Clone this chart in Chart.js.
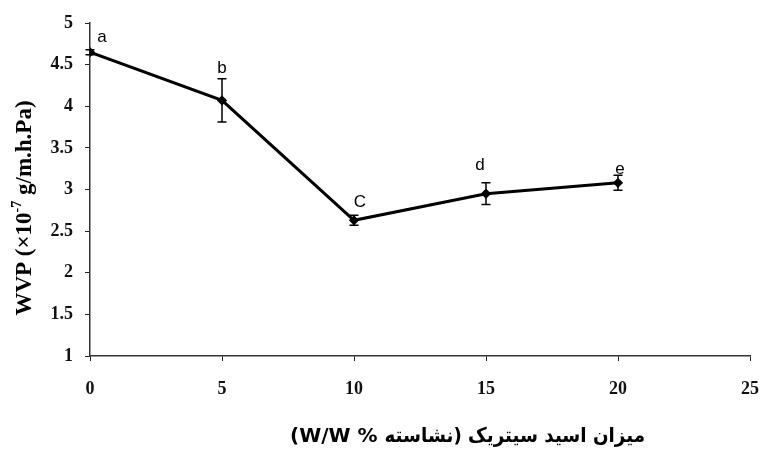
<!DOCTYPE html>
<html>
<head>
<meta charset="utf-8">
<script src="https://cdn.jsdelivr.net/npm/chart.js@4.4.1/dist/chart.umd.min.js"></script>
<style>
  html, body { margin: 0; padding: 0; background: #fff; }
  #wrap { width: 763px; height: 453px; }
</style>
</head>
<body>
<div id="wrap"><canvas id="c" width="763" height="453"></canvas></div>
<script>
// Citric acid content (% w/w of starch) and water vapour permeability
const citricAcid = [0, 5, 10, 15, 20];
const wvp = [4.65, 4.07, 2.63, 2.95, 3.08];
const wvpError = [0.03, 0.26, 0.06, 0.13, 0.09];
const groupLetters = ['a', 'b', 'C', 'd', 'e'];
const xTicks = [0, 5, 10, 15, 20, 25];
const yTicks = [1, 1.5, 2, 2.5, 3, 3.5, 4, 4.5, 5];

const yTitleMain = 'WVP (\u00d710';
const yTitleSup = '-7';
const yTitleRest = ' g/m.h.Pa)';
// horizontal title: Persian part (right-to-left) and unit part
const xTitlePersian = 'میزان اسید سیتریک (نشاسته';
const xTitleUnit = '(W/W %';

// Letter placement relative to each point (pixels)
const letterOffsets = [[12, -15], [0, -32], [6, -18], [-6, -28], [2, -14]];

const tickFont = { family: '"Liberation Serif", serif', size: 18, weight: 'bold' };

const errorBars = {
  id: 'errorBars',
  beforeDatasetsDraw(chart) {
    const { ctx, scales: { x, y } } = chart;
    ctx.save();
    ctx.strokeStyle = '#000';
    ctx.lineWidth = 1.5;
    citricAcid.forEach((c, i) => {
      const px = x.getPixelForValue(c);
      const top = y.getPixelForValue(wvp[i] + wvpError[i]);
      const bot = y.getPixelForValue(wvp[i] - wvpError[i]);
      ctx.beginPath();
      ctx.moveTo(px, top); ctx.lineTo(px, bot);
      ctx.moveTo(px - 4.5, top); ctx.lineTo(px + 4.5, top);
      ctx.moveTo(px - 4.5, bot); ctx.lineTo(px + 4.5, bot);
      ctx.stroke();
    });
    ctx.restore();
  }
};

const annotations = {
  id: 'annotations',
  afterDatasetsDraw(chart) {
    const { ctx, scales: { x, y } } = chart;
    ctx.save();
    ctx.fillStyle = '#000';
    ctx.font = '17px "Liberation Sans", sans-serif';
    ctx.textAlign = 'center';
    ctx.textBaseline = 'middle';
    citricAcid.forEach((c, i) => {
      const [dx, dy] = letterOffsets[i];
      ctx.fillText(groupLetters[i], x.getPixelForValue(c) + dx, y.getPixelForValue(wvp[i]) + dy);
    });
    ctx.restore();
  },
  afterDraw(chart) {
    const { ctx } = chart;
    // vertical axis title with superscript exponent
    ctx.save();
    ctx.fillStyle = '#000';
    ctx.translate(25, 208);
    ctx.rotate(-Math.PI / 2);
    ctx.textBaseline = 'middle';
    const mainFont = 'bold 23px "Liberation Serif", serif';
    const supFont = 'bold 14px "Liberation Serif", serif';
    ctx.font = mainFont;
    const w1 = ctx.measureText(yTitleMain).width;
    const w3 = ctx.measureText(yTitleRest).width;
    ctx.font = supFont;
    const w2 = ctx.measureText(yTitleSup).width;
    let sx = -(w1 + w2 + w3) / 2;
    ctx.textAlign = 'left';
    ctx.font = mainFont;
    ctx.fillText(yTitleMain, sx, 0);
    sx += w1;
    ctx.font = supFont;
    ctx.fillText(yTitleSup, sx, -8);
    sx += w2;
    ctx.font = mainFont;
    ctx.fillText(yTitleRest, sx, 0);
    ctx.restore();

    // horizontal axis title
    ctx.save();
    ctx.fillStyle = '#000';
    ctx.textBaseline = 'middle';
    ctx.font = 'bold 20px "DejaVu Sans", sans-serif';
    ctx.textAlign = 'left';
    ctx.direction = 'ltr';
    ctx.fillText(xTitleUnit, 290, 437);
    const unitW = ctx.measureText(xTitleUnit + ' ').width;
    const persianLeft = 290 + unitW;
    const persianW = ctx.measureText(xTitlePersian).width;
    const targetW = 645 - persianLeft;
    ctx.translate(persianLeft, 437);
    ctx.scale(targetW / persianW, 1);
    ctx.direction = 'rtl';
    ctx.textAlign = 'left';
    ctx.fillText(xTitlePersian, 0, 0);
    ctx.restore();
  }
};

new Chart(document.getElementById('c'), {
  type: 'line',
  data: {
    datasets: [{
      data: citricAcid.map((c, i) => ({ x: c, y: wvp[i] })),
      borderColor: '#000',
      backgroundColor: '#000',
      borderWidth: 3,
      pointStyle: 'rectRot',
      pointRadius: 3,
      pointBackgroundColor: '#000',
      pointBorderColor: '#000',
      tension: 0
    }]
  },
  options: {
    responsive: false,
    devicePixelRatio: 1,
    animation: false,
    layout: { padding: { top: 23, right: 13, left: 0, bottom: 0 } },
    plugins: { legend: { display: false }, tooltip: { enabled: false } },
    scales: {
      x: {
        type: 'linear',
        min: 0, max: 25,
        afterBuildTicks: s => { s.ticks = xTicks.map(v => ({ value: v })); },
        afterFit: s => { s.height = 97; s.paddingLeft = 0; s.paddingRight = 0; },
        grid: { drawOnChartArea: false, drawTicks: true, tickLength: 5, color: '#222', lineWidth: 1 },
        border: { display: true, color: '#333', width: 1.5 },
        ticks: { font: tickFont, color: '#111', padding: 18, maxRotation: 0 }
      },
      y: {
        type: 'linear',
        min: 1, max: 5,
        afterBuildTicks: s => { s.ticks = yTicks.map(v => ({ value: v })); },
        afterFit: s => { s.width = 90; s.paddingTop = 0; s.paddingBottom = 0; },
        grid: { drawOnChartArea: false, drawTicks: true, tickLength: 5, color: '#222', lineWidth: 1 },
        border: { display: true, color: '#333', width: 1.5 },
        ticks: { font: tickFont, color: '#111', padding: 12, callback: v => String(v) }
      }
    }
  },
  plugins: [errorBars, annotations]
});
</script>
</body>
</html>
